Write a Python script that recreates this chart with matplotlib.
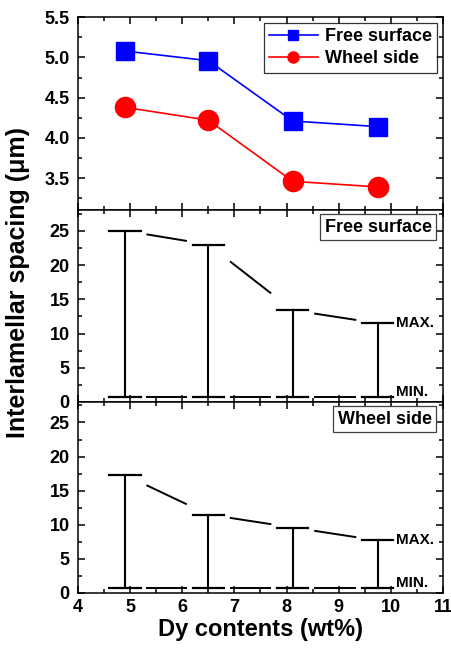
import numpy as np
import matplotlib.pyplot as plt
from matplotlib.ticker import MultipleLocator

plt.rcParams['font.family'] = ['Liberation Sans', 'DejaVu Sans']
plt.rcParams['font.weight'] = 'bold'

# data
dy = [4.9, 6.5, 8.12, 9.75]
free_avg = [5.08, 4.96, 4.21, 4.14]
wheel_avg = [4.38, 4.22, 3.46, 3.39]
free_max = [25.0, 23.0, 13.4, 11.5]
free_min = [0.7, 0.7, 0.7, 0.7]
wheel_max = [17.3, 11.5, 9.6, 7.7]
wheel_min = [0.7, 0.7, 0.7, 0.7]

cap = 0.3
gap = 0.13


def style_axes(ax, ymaj, ymin):
    ax.set_xlim(4, 11)
    ax.xaxis.set_major_locator(MultipleLocator(1))
    ax.xaxis.set_minor_locator(MultipleLocator(0.5))
    ax.yaxis.set_major_locator(MultipleLocator(ymaj))
    ax.yaxis.set_minor_locator(MultipleLocator(ymin))
    ax.tick_params(which='both', direction='in', top=True, right=True, width=1.1)
    ax.tick_params(which='major', length=5, labelsize=13)
    ax.tick_params(axis='y', which='major', pad=6)
    ax.tick_params(axis='x', which='major', pad=4)
    ax.tick_params(which='minor', length=3)
    for s in ax.spines.values():
        s.set_linewidth(1.1)
    for lab in ax.get_xticklabels() + ax.get_yticklabels():
        lab.set_fontweight('bold')


def range_plot(ax, xs, ymax, ymin):
    for vals in (ymax, ymin):
        # caps
        for x, y in zip(xs, vals):
            ax.plot([x - cap, x + cap], [y, y], color='black', lw=1.6)
        # connecting line with gaps at the caps
        for i in range(len(xs) - 1):
            x0, x1 = xs[i], xs[i + 1]
            y0, y1 = vals[i], vals[i + 1]
            xa = x0 + cap + gap
            xb = x1 - cap - gap
            ya = y0 + (y1 - y0) * (xa - x0) / (x1 - x0)
            yb = y0 + (y1 - y0) * (xb - x0) / (x1 - x0)
            ax.plot([xa, xb], [ya, yb], color='black', lw=1.4)
    for x, a, b in zip(xs, ymin, ymax):
        ax.plot([x, x], [a, b], color='black', lw=1.5)
    ax.text(xs[-1] + 0.36, ymax[-1], 'MAX.', fontsize=11, fontweight='bold',
            va='center', ha='left')
    ax.text(xs[-1] + 0.36, ymin[-1] + 0.8, 'MIN.', fontsize=11, fontweight='bold',
            va='center', ha='left')


fig = plt.figure(figsize=(4.51, 6.53), dpi=100)
ax1 = fig.add_axes([0.173, 0.678, 0.809, 0.2956])
ax2 = fig.add_axes([0.173, 0.3844, 0.809, 0.2936])
ax3 = fig.add_axes([0.173, 0.0919, 0.809, 0.2925])

ax1.plot(dy, free_avg, color='blue', lw=1.2, marker='s', markersize=13,
         label='Free surface')
ax1.plot(dy, wheel_avg, color='red', lw=1.2, marker='o', markersize=14.5,
         label='Wheel side')
ax1.set_ylim(3.1, 5.5)
style_axes(ax1, 0.5, 0.25)
ax1.tick_params(labelbottom=False)
leg = ax1.legend(loc='upper right', fontsize=13, markerscale=0.55,
                 frameon=True, fancybox=False, edgecolor='black',
                 borderaxespad=0.3, handlelength=2.7, labelspacing=0.3,
                 borderpad=0.3, handletextpad=0.4)
leg.get_frame().set_linewidth(0.9)
for t in leg.get_texts():
    t.set_fontweight('bold')

range_plot(ax2, dy, free_max, free_min)
ax2.set_ylim(0, 28)
style_axes(ax2, 5, 2.5)
ax2.tick_params(labelbottom=False)
ax2.text(0.97, 0.955, 'Free surface', transform=ax2.transAxes, ha='right',
         va='top', fontsize=13, fontweight='bold',
         bbox=dict(boxstyle='square,pad=0.25', facecolor='white',
                   edgecolor='0.25', lw=0.9))

range_plot(ax3, dy, wheel_max, wheel_min)
ax3.set_ylim(0, 28)
style_axes(ax3, 5, 2.5)
ax3.text(0.97, 0.955, 'Wheel side', transform=ax3.transAxes, ha='right',
         va='top', fontsize=13, fontweight='bold',
         bbox=dict(boxstyle='square,pad=0.25', facecolor='white',
                   edgecolor='0.25', lw=0.9))
ax3.set_xlabel('Dy contents (wt%)', fontsize=17, fontweight='bold', labelpad=2)

fig.text(0.04, 0.567, 'Interlamellar spacing (\u03bcm)', rotation=90,
         ha='center', va='center', fontsize=18, fontweight='bold')

fig.savefig('out.png', dpi=100)
